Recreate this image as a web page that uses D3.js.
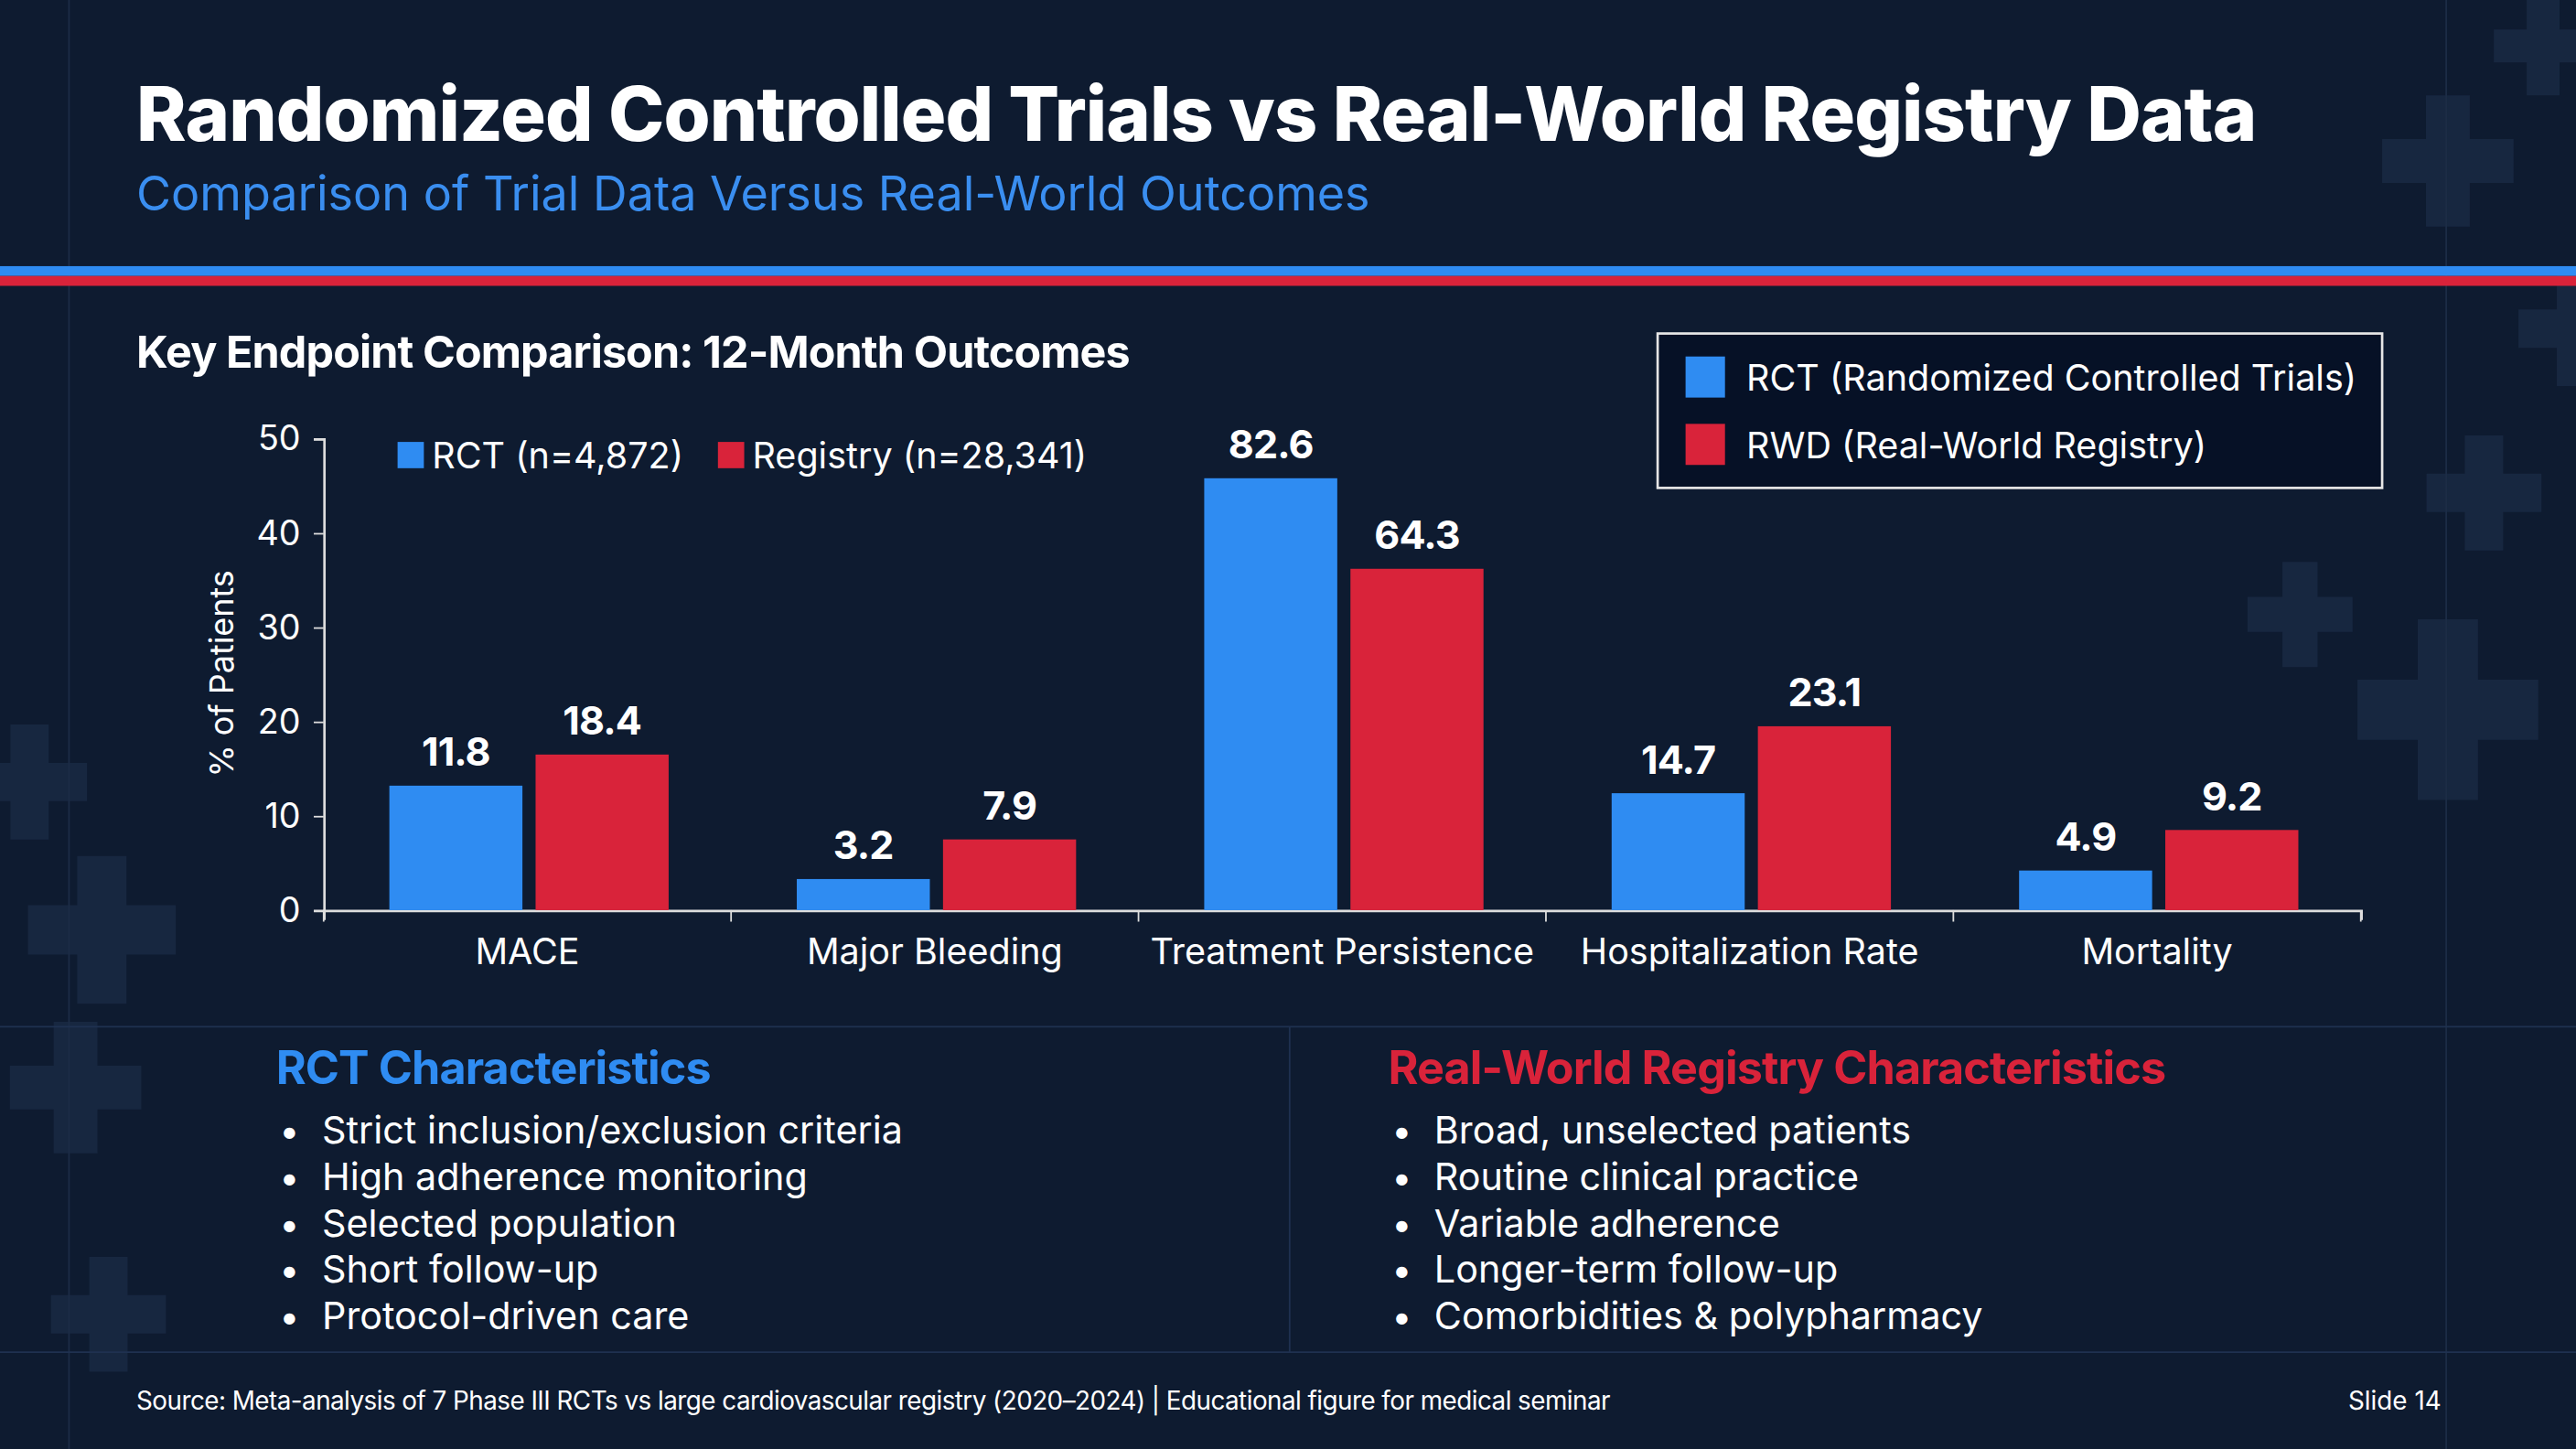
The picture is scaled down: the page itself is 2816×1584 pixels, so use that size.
<!DOCTYPE html>
<html lang="en">
<head>
<meta charset="UTF-8">
<title>RCT vs Real-World Registry Data</title>
<script src="https://d3js.org/d3.v7.min.js"></script>
<style>
  html, body { margin: 0; padding: 0; background: #0e1b30; overflow: hidden; }
  text { font-family: "Inter", "Open Sans", sans-serif; fill: #fff; }
</style>
</head>
<body>
<svg id="chart" width="2816" height="1584" viewBox="0 0 1568 882"></svg>
<script>
// data
const categories = ["MACE", "Major Bleeding", "Treatment Persistence", "Hospitalization Rate", "Mortality"];
const rctLabels = [11.8, 3.2, 82.6, 14.7, 4.9];
const rwdLabels = [18.4, 7.9, 64.3, 23.1, 9.2];
// bar heights as drawn against the 0-50 axis in the reference
const rctPlotted = [13.2, 3.3, 45.8, 12.4, 4.2];
const rwdPlotted = [16.5, 7.5, 36.2, 19.5, 8.5];
const yTicks = [0, 10, 20, 30, 40, 50];
const rctPoints = ["Strict inclusion/exclusion criteria", "High adherence monitoring", "Selected population", "Short follow-up", "Protocol-driven care"];
const rwdPoints = ["Broad, unselected patients", "Routine clinical practice", "Variable adherence", "Longer-term follow-up", "Comorbidities & polypharmacy"];

const BLUE = "#2f8cf2", RED = "#d9233a";
const svg = d3.select("#chart");

// background
svg.append("rect").attr("width", 1568).attr("height", 882).attr("fill", "#0e1b30");
const crosses = [[1490, 98, 80], [1548, 28, 60], [1568, 200, 70], [1490, 432, 110], [1400, 374, 64], [1512, 300, 70],
                 [62, 566, 90], [18, 476, 70], [46, 662, 80], [66, 800, 70]];
crosses.forEach(([cx, cy, s]) => {
  const t = s / 3;
  svg.append("path")
    .attr("d", `M${cx - t / 2},${cy - s / 2}h${t}v${t}h${t}v${t}h${-t}v${t}h${-t}v${-t}h${-t}v${-t}h${t}z`)
    .attr("fill", "#1a2b45").attr("opacity", 0.8);
});
svg.append("line").attr("x1", 42).attr("x2", 42).attr("y1", 0).attr("y2", 882).attr("stroke", "#1c2c46");
svg.append("line").attr("x1", 1489).attr("x2", 1489).attr("y1", 0).attr("y2", 882).attr("stroke", "#1c2c46");

// header
svg.append("text").attr("x", 83).attr("y", 86).attr("font-size", 46).attr("font-weight", 800)
  .attr("letter-spacing", -0.5).text("Randomized Controlled Trials vs Real-World Registry Data");
svg.append("text").attr("x", 83).attr("y", 128).attr("font-size", 29).style("fill", "#3a8ef0")
  .text("Comparison of Trial Data Versus Real-World Outcomes");
svg.append("rect").attr("x", 0).attr("y", 162).attr("width", 1568).attr("height", 6).attr("fill", BLUE);
svg.append("rect").attr("x", 0).attr("y", 168).attr("width", 1568).attr("height", 6).attr("fill", RED);

svg.append("text").attr("x", 83).attr("y", 224).attr("font-size", 27).attr("font-weight", 700)
  .attr("letter-spacing", -0.5).text("Key Endpoint Comparison: 12-Month Outcomes");

// chart
const x0 = d3.scaleBand().domain(categories).range([197, 1437]);
const x1 = d3.scaleBand().domain(["rct", "rwd"]).range([40, 210]).paddingInner(0.09);
const y = d3.scaleLinear().domain([0, 50]).range([554, 267]);

const yAxis = svg.append("g").attr("transform", "translate(197,0)")
  .call(d3.axisLeft(y).tickValues(yTicks).tickSize(6).tickPadding(8));
const xAxis = svg.append("g").attr("transform", "translate(0,554)")
  .call(d3.axisBottom(x0).tickSize(6).tickPadding(12).tickFormat(() => ""));
xAxis.selectAll(".tick").remove();
xAxis.selectAll(".sep").data(d3.range(categories.length + 1)).join("line")
  .attr("x1", i => 197 + i * x0.bandwidth()).attr("x2", i => 197 + i * x0.bandwidth())
  .attr("y1", 0).attr("y2", 7).attr("stroke", "#ddd");
[yAxis, xAxis].forEach(a => { a.select(".domain").attr("stroke", "#ddd").attr("stroke-width", 1.5); a.selectAll("line").attr("stroke", "#ddd"); });
yAxis.selectAll("text").attr("font-size", 21).style("fill", "#fff");

svg.selectAll(".cat").data(categories).join("text")
  .attr("x", d => x0(d) + x0.bandwidth() / 2).attr("y", 587).attr("text-anchor", "middle")
  .attr("font-size", 22).text(d => d);

svg.append("text").attr("transform", "translate(142,410) rotate(-90)").attr("text-anchor", "middle")
  .attr("font-size", 20).text("% of Patients");

const series = [
  { key: "rct", plotted: rctPlotted, labels: rctLabels, color: BLUE },
  { key: "rwd", plotted: rwdPlotted, labels: rwdLabels, color: RED }
];
series.forEach(s => {
  svg.selectAll(".bar-" + s.key).data(categories).join("rect")
    .attr("x", (d) => x0(d) + x1(s.key)).attr("width", x1.bandwidth())
    .attr("y", (d, i) => y(s.plotted[i])).attr("height", (d, i) => y(0) - y(s.plotted[i]))
    .attr("fill", s.color);
  svg.selectAll(".lab-" + s.key).data(categories).join("text")
    .attr("x", d => x0(d) + x1(s.key) + x1.bandwidth() / 2)
    .attr("y", (d, i) => y(s.plotted[i]) - 12).attr("text-anchor", "middle")
    .attr("font-size", 24).attr("font-weight", 700).attr("letter-spacing", -0.5)
    .text((d, i) => s.labels[i]);
});

// inner legend
[["RCT (n=4,872)", BLUE, 242], ["Registry (n=28,341)", RED, 437]].forEach(([t, c, lx]) => {
  svg.append("rect").attr("x", lx).attr("y", 269).attr("width", 16).attr("height", 16).attr("fill", c);
  svg.append("text").attr("x", lx + 21).attr("y", 285).attr("font-size", 22).text(t);
});

// legend box
svg.append("rect").attr("x", 1009).attr("y", 203).attr("width", 441).attr("height", 94)
  .attr("fill", "#061126").attr("stroke", "#e6e6e6").attr("stroke-width", 1.5);
[["RCT (Randomized Controlled Trials)", BLUE, 217], ["RWD (Real-World Registry)", RED, 258]].forEach(([t, c, ly]) => {
  svg.append("rect").attr("x", 1026).attr("y", ly).attr("width", 24).attr("height", 25).attr("fill", c);
  svg.append("text").attr("x", 1063).attr("y", ly + 21).attr("font-size", 22).text(t);
});

// bottom panels
svg.append("line").attr("x1", 0).attr("x2", 1568).attr("y1", 625).attr("y2", 625).attr("stroke", "#1f3150");
svg.append("line").attr("x1", 0).attr("x2", 1568).attr("y1", 823).attr("y2", 823).attr("stroke", "#1f3150");
svg.append("line").attr("x1", 785).attr("x2", 785).attr("y1", 625).attr("y2", 823).attr("stroke", "#1f3150");

[["RCT Characteristics", BLUE, 168, rctPoints], ["Real-World Registry Characteristics", RED, 845, rwdPoints]].forEach(([h, c, px, pts]) => {
  svg.append("text").attr("x", px).attr("y", 660).attr("font-size", 28).attr("font-weight", 700)
    .attr("letter-spacing", -0.5).style("fill", c).text(h);
  pts.forEach((p, i) => {
    svg.append("text").attr("x", px + 2).attr("y", 696 + i * 28.3).attr("font-size", 22).text("•");
    svg.append("text").attr("x", px + 28).attr("y", 696 + i * 28.3).attr("font-size", 23).text(p);
  });
});

svg.append("text").attr("x", 83).attr("y", 858).attr("font-size", 15.5).attr("letter-spacing", -0.3)
  .text("Source: Meta-analysis of 7 Phase III RCTs vs large cardiovascular registry (2020–2024) | Educational figure for medical seminar");
svg.append("text").attr("x", 1486).attr("y", 858).attr("text-anchor", "end").attr("font-size", 15.5).text("Slide 14");
</script>
</body>
</html>
